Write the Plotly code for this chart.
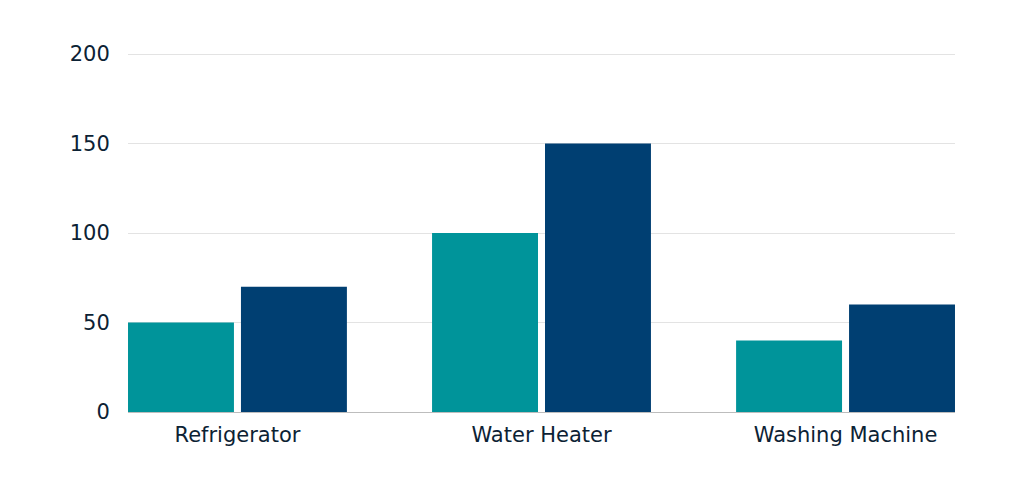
import plotly.graph_objects as go

categories = ["Refrigerator", "Water Heater", "Washing Machine"]
series_a = [50, 100, 40]
series_b = [70, 150, 60]
y_ticks = [0, 50, 100, 150, 200]

font_family = "DejaVu Sans, sans-serif"
text_color = "#0c2234"

fig = go.Figure()
fig.add_trace(go.Bar(x=categories, y=series_a, marker=dict(color="#00949a", line=dict(width=0)), name="A"))
fig.add_trace(go.Bar(x=categories, y=series_b, marker=dict(color="#003f72", line=dict(width=0)), name="B"))

# page body adds an 8px margin, so the figure is a bit smaller than the window
fig.update_layout(
    width=1016, height=493,
    margin=dict(l=120, r=69, t=45, b=89),
    barmode="group", bargap=0.257, bargroupgap=0.062,
    plot_bgcolor="white", paper_bgcolor="white",
    showlegend=False,
    font=dict(family=font_family, color=text_color, size=21),
    xaxis=dict(range=[-0.36, 2.36], showgrid=False, ticks="outside", ticklen=4,
               tickcolor="white", showline=False),
    yaxis=dict(range=[0, 200.6], tickvals=y_ticks, showgrid=True, gridcolor="#e3e3e3",
               gridwidth=1, zeroline=True, zerolinecolor="#bdbdbd", zerolinewidth=1,
               ticks="outside", ticklen=13, tickcolor="white"),
)

fig.write_html("out.html")
